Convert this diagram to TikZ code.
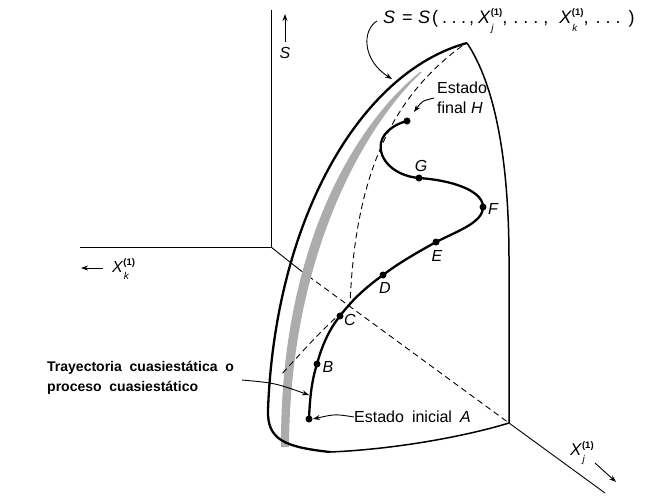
\documentclass[tikz,border=0pt]{standalone}
\usepackage{fontspec}
\setmainfont{Liberation Sans}
\usetikzlibrary{arrows.meta}
\newcommand{\XX}[1]{\textit{X}\makebox[0pt][l]{\raisebox{0.42em}{\fontsize{9.5}{10}\selectfont\bfseries(1)}}\makebox[11.6pt][l]{\raisebox{-0.45em}{\fontsize{10}{10}\selectfont\itshape\kern0.5pt#1}}}
\newcommand{\hs}[1]{\hspace{#1pt}}
\begin{document}
\begin{tikzpicture}[x=1pt,y=-1pt,
  axis/.style={line width=0.9pt},
  edge/.style={line width=1.5pt},
  thickedge/.style={line width=2.3pt},
  hidden/.style={line width=0.9pt, dash pattern=on 6pt off 4pt},
  pathline/.style={line width=2.3pt},
  pt/.style={circle, fill=black, inner sep=0pt, minimum size=7pt},
  lbl/.style={font=\fontsize{16}{18}\selectfont\itshape, inner sep=1pt},
  txt/.style={font=\fontsize{16}{18}\selectfont, inner sep=0pt},
  arr/.style={line width=0.9pt, -{Stealth[length=7pt,width=5pt]}},
  boldtxt/.style={font=\fontsize{14}{20}\selectfont\bfseries, align=left, inner sep=0pt}
]
\useasboundingbox (0,0) rectangle (663,496);

% axes
\coordinate (O) at (271,247);
\coordinate (Stop) at (271,10);
\coordinate (Kend) at (80,247);
\coordinate (J1) at (300,270);
\coordinate (J2) at (509,423);
\coordinate (Jend) at (605,493);
\draw[axis] (Stop) -- (O) -- (Kend);
\draw[axis] (O) -- (J1);
\draw[hidden] (J1) -- (J2);
\draw[axis] (J2) -- (Jend);

% shaded band
\fill[gray!65] (420,72) .. controls (360,120) and (280,240) .. (281,447)
  -- (289,447) .. controls (290,250) and (368,122) .. (422,72) -- cycle;

% surface
\coordinate (apex) at (467,43);
\draw[thickedge] (apex) .. controls (360,72) and (275,220) .. (268,410)
  .. controls (267,440) and (285,447) .. (330,452);
\draw[edge] (330,452) .. controls (400,449) and (470,435) .. (J2);
\draw[edge] (apex) .. controls (495,85) and (509,160) .. (509,260) -- (J2);

% dashed curves
\draw[hidden] (462,46) .. controls (395,95) and (355,170) .. (350,305);
\draw[hidden] (350,305) .. controls (322,330) .. (280,376);

% quasistatic path
\coordinate (A) at (309,419);
\coordinate (B) at (317,364);
\coordinate (C) at (340,316);
\coordinate (D) at (383,275);
\coordinate (E) at (436,242);
\coordinate (F) at (483,207);
\coordinate (G) at (419,178);
\coordinate (T) at (381,143);
\coordinate (H) at (407,121);
\draw[pathline] (A) .. controls (310,395) and (312,380) .. (B)
  .. controls (322,345) and (330,328) .. (C)
  .. controls (352,300) and (365,288) .. (D)
  .. controls (400,262) and (420,251) .. (E)
  .. controls (460,230) and (483,222) .. (F)
  .. controls (483,190) and (450,180) .. (G)
  .. controls (395,176) and (378,160) .. (T)
  .. controls (383,132) and (395,124) .. (H);
\foreach \p in {A,B,C,D,E,F,G,H} \node[pt] at (\p) {};

% point labels
\node[lbl] (lB) at (328,367) {B};
\node[lbl] (lC) at (350,320) {C};
\node[lbl] (lD) at (385,288) {D};
\node[lbl] (lE) at (437,256) {E};
\node[lbl] (lF) at (493,209) {F};
\node[lbl] (lG) at (421,166) {G};

% Estado final H
\node[txt, anchor=west] (fin1) at (437,88) {Estado};
\node[txt, anchor=west] (fin2) at (437,108) {final \textit{H}};
\coordinate (finTip) at (414,112);
\draw[arr] (fin2.west) ++(-3,-10) .. controls (422,101) .. (finTip);

% Estado inicial A
\node[txt, anchor=west] (ini) at (354,417) {Estado\hs{8}inicial\hs{8}\textit{A}};
\draw[arr] (ini.west) .. controls (335,414) .. (313,419);

% top formula
\node[anchor=west, inner sep=0pt, font=\fontsize{18}{20}\selectfont] (form) at (383,21)
  {\textit{S}\hs{7}=\hs{5.5}\textit{S}\hs{2}(\hs{4}.\hs{4.5}.\hs{4.5}.\hs{3},\hs{4}\XX{j},\hs{6}.\hs{5}.\hs{5}.\hs{5},\hs{11}\XX{k},\hs{7}.\hs{5}.\hs{5}.\hs{8})};
\coordinate (formTip) at (392,79);
\draw[arr] (form.west) ++(-6,0) .. controls (362,30) and (362,60) .. (formTip);

% S axis label
\coordinate (sa1) at (285,42);
\coordinate (sa2) at (285,14);
\draw[arr] (sa1) -- (sa2);
\node[lbl] (Slab) at (285,53) {S};

% Xk axis label
\node[anchor=west, inner sep=0pt, font=\fontsize{16}{18}\selectfont] (Xk) at (112,269) {\XX{k}};
\coordinate (xk1) at (103,268);
\coordinate (xk2) at (81,268);
\draw[arr] (xk1) -- (xk2);

% Xj axis label
\node[anchor=west, inner sep=0pt, font=\fontsize{17}{18}\selectfont] (Xj) at (570,453) {\XX{j}};
\coordinate (xj1) at (595,463);
\coordinate (xj2) at (616,482);
\draw[arr] (xj1) -- (xj2);

% bold text
\node[boldtxt, anchor=west] (traj) at (47,378) {Trayectoria\ \ cuasiestática\ \ o\\proceso\ \ cuasiestático};
\coordinate (trajTip) at (309,395);
\draw[arr] (242,380) .. controls (275,383) .. (trajTip);
\end{tikzpicture}
\end{document}
